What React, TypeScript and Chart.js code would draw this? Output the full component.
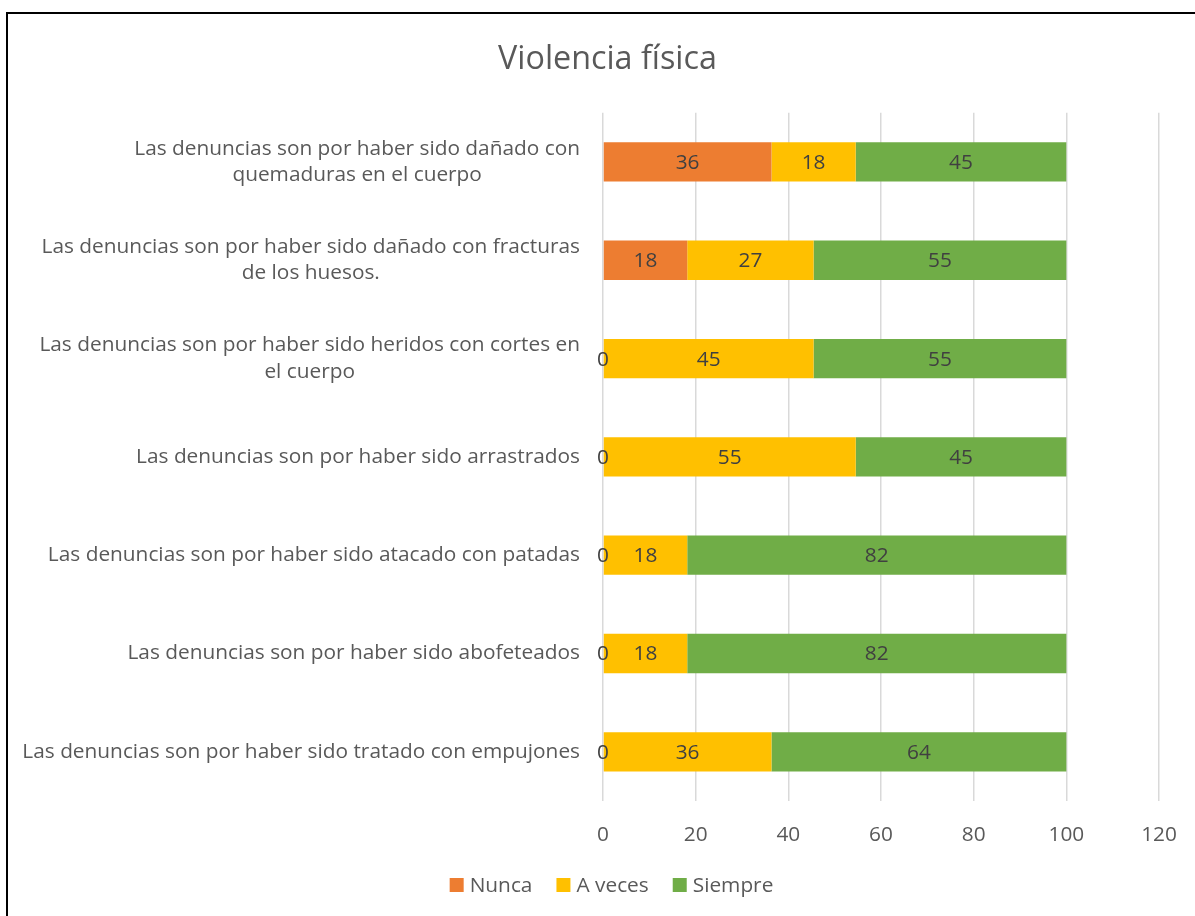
import React, { useEffect, useRef } from "react";
import { Chart, registerables } from "chart.js";
Chart.register(...registerables);

const title = "Violencia física";
const categories: string[][] = [
  ["Las denuncias son por haber sido dañado con", "quemaduras en el cuerpo"],
  ["Las denuncias son por haber sido dañado con fracturas", "de los huesos."],
  ["Las denuncias son por haber sido heridos con cortes en", "el cuerpo"],
  ["Las denuncias son por haber sido arrastrados"],
  ["Las denuncias son por haber sido atacado con patadas"],
  ["Las denuncias son por haber sido abofeteados"],
  ["Las denuncias son por haber sido tratado con empujones"],
];
const seriesNames = ["Nunca", "A veces", "Siempre"];
const nunca = [36.36, 18.18, 0, 0, 0, 0, 0];
const aVeces = [18.18, 27.27, 45.45, 54.55, 18.18, 18.18, 36.36];
const siempre = [45.45, 54.55, 54.55, 45.45, 81.82, 81.82, 63.64];
const xMin = 0;
const xMax = 120;
const xStep = 20;

const COLORS = ["#ED7D31", "#FFC000", "#70AD47"];
const FONT = "'Open Sans', sans-serif";
const TEXT = "#595959";

function fitSize(): number {
  const c = document.createElement("canvas").getContext("2d")!;
  c.font = `100px ${FONT}`;
  const w = c.measureText(categories[6][0]).width;
  return (100 * 558) / w;
}

export default function App() {
  const ref = useRef<HTMLCanvasElement>(null);
  useEffect(() => {
    const fs = fitSize();
    const yLabels = {
      id: "yLabels",
      afterDraw(chart: any) {
        const ctx = chart.ctx;
        const ys = chart.scales.y;
        const left = chart.chartArea.left;
        ctx.save();
        ctx.font = `${fs}px ${FONT}`;
        ctx.fillStyle = TEXT;
        ctx.textAlign = "center";
        ctx.textBaseline = "middle";
        const lh = fs * 1.25;
        categories.forEach((lines, i) => {
          const y = ys.getPixelForTick(i);
          const mw = Math.max(...lines.map((l) => ctx.measureText(l).width));
          const cx = left - 23 - mw / 2;
          lines.forEach((l, j) => {
            ctx.fillText(l, cx, y + (j - (lines.length - 1) / 2) * lh);
          });
        });
        ctx.restore();
      },
    };
    const legendPlugin = {
      id: "customLegend",
      afterDraw(chart: any) {
        const ctx = chart.ctx;
        ctx.save();
        ctx.font = `${fs}px ${FONT}`;
        ctx.textAlign = "left";
        ctx.textBaseline = "middle";
        const box = 14;
        const gap = 6;
        const itemGap = 24;
        const widths = seriesNames.map((n) => box + gap + ctx.measureText(n).width);
        const total = widths.reduce((a, b) => a + b, 0) + itemGap * (seriesNames.length - 1);
        const centerX = (20 + chart.width) / 2 + 4;
        const cy = 885;
        let x = centerX - total / 2;
        seriesNames.forEach((n, i) => {
          ctx.fillStyle = COLORS[i];
          ctx.fillRect(x, cy - box / 2, box, box);
          ctx.fillStyle = TEXT;
          ctx.fillText(n, x + box + gap, cy + 1);
          x += widths[i] + itemGap;
        });
        ctx.restore();
      },
    };
    const dataLabels = {
      id: "dataLabels",
      afterDatasetsDraw(chart: any) {
        const ctx = chart.ctx;
        ctx.save();
        ctx.font = `${fs}px ${FONT}`;
        ctx.fillStyle = "#404040";
        ctx.textAlign = "center";
        ctx.textBaseline = "middle";
        chart.data.datasets.forEach((ds: any, di: number) => {
          const meta = chart.getDatasetMeta(di);
          meta.data.forEach((el: any, i: number) => {
            const v = ds.data[i];
            ctx.fillText(String(Math.round(v)), (el.x + el.base) / 2, el.y + 1);
          });
        });
        ctx.restore();
      },
    };
    const chart = new Chart(ref.current!, {
      type: "bar",
      data: {
        labels: categories,
        datasets: [
          { label: seriesNames[0], data: nunca, backgroundColor: COLORS[0] },
          { label: seriesNames[1], data: aVeces, backgroundColor: COLORS[1] },
          { label: seriesNames[2], data: siempre, backgroundColor: COLORS[2] },
        ],
      },
      options: {
        indexAxis: "y",
        animation: false,
        responsive: true,
        maintainAspectRatio: false,
        layout: { padding: { left: 20, right: 0, top: 20, bottom: 75 } },
        datasets: { bar: { barPercentage: 0.4, categoryPercentage: 1 } },
        scales: {
          x: {
            stacked: true,
            min: xMin,
            max: xMax,
            ticks: { stepSize: xStep, color: TEXT, font: { family: FONT, size: fs }, padding: 22 },
            grid: { color: "#D9D9D9", lineWidth: 1.5, drawTicks: false },
            border: { display: false },
            afterFit(s: any) {
              s.paddingRight = 36;
              s.height = 40;
            },
          },
          y: {
            stacked: true,
            ticks: { display: false },
            grid: { display: false },
            border: { display: false },
            afterFit(s: any) {
              s.width = 583;
            },
          },
        },
        plugins: {
          title: {
            display: true,
            text: title,
            color: TEXT,
            font: { family: FONT, size: fs * 1.55, weight: "normal" },
            padding: { top: 20, bottom: 34 },
          },
          legend: { display: false },
          tooltip: { enabled: false },
        },
      },
      plugins: [yLabels, dataLabels, legendPlugin],
    });
    return () => chart.destroy();
  }, []);
  return (
    <div style={{ position: "fixed", left: 0, top: 0, width: 1195, height: 916, overflow: "hidden", background: "#fff" }}>
      <div style={{ position: "absolute", left: 0, top: 0, width: 1195, height: 916 }}>
        <canvas ref={ref} />
      </div>
      <div
        style={{
          position: "absolute",
          left: 6,
          top: 12,
          width: 1300,
          height: 1000,
          border: "2px solid #000",
          pointerEvents: "none",
        }}
      />
    </div>
  );
}
